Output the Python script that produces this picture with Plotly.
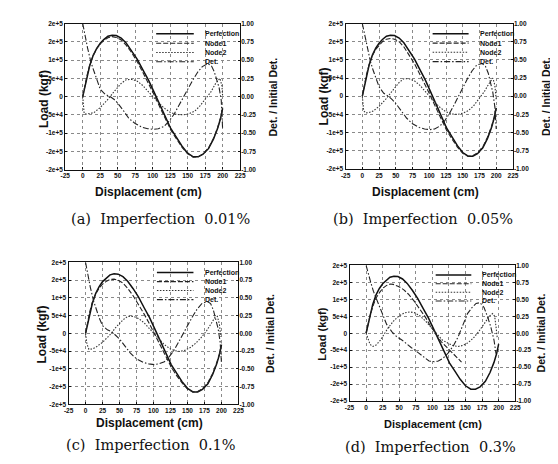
import plotly.graph_objects as go

# ---------------- data ----------------
PERF_X = [0, 3, 6, 10, 15, 20, 25, 30, 36, 42, 48, 55, 62, 70, 78, 86, 94, 102, 110, 118, 126, 134, 142, 150, 158, 165, 172, 180, 187, 193, 197, 200]
PERF_Y = [0, 28, 55, 85, 113, 132, 146, 156, 165, 168, 167, 160, 147, 126, 102, 73, 45, 12, -22, -55, -88, -112, -136, -155, -165, -165, -158, -142, -116, -86, -60, -32]

N1_X = PERF_X
N1_A_Y = [0, 30, 57, 86, 113, 131, 144, 153, 161, 164, 162, 155, 141, 120, 95, 66, 37, 5, -28, -60, -92, -116, -139, -157, -166, -165, -157, -140, -114, -84, -58, -30]
N1_B_Y = [0, 31, 58, 86, 112, 129, 141, 150, 157, 159, 157, 150, 136, 114, 89, 60, 31, 0, -32, -63, -94, -118, -140, -157, -165, -164, -156, -139, -113, -83, -57, -29]
N1_C_Y = [0, 33, 60, 88, 112, 128, 139, 146, 152, 153, 150, 142, 127, 106, 82, 55, 27, -3, -34, -65, -95, -119, -140, -157, -165, -164, -156, -139, -113, -83, -57, -29]
N1_D_X = [0, 3, 6, 10, 15, 21, 26, 31, 36, 41, 49, 57, 64, 72, 80, 89, 97, 105, 113, 122, 130, 138, 144]
N1_D_Y = [0, 27, 52, 78, 104, 122, 134, 141, 145, 144, 138, 128, 115, 96, 74, 49, 22, -2, -24, -42, -57, -73, -85]

N2_A_X = [0, 2, 5, 10, 16, 25, 35, 45, 55, 62, 70, 78, 86, 94, 100, 108, 116, 125, 134, 144, 152, 160, 167, 175, 183, 190, 196, 199, 200]
N2_A_Y = [0, -46, -48, -47, -44, -30, -10, 14, 36, 46, 47, 42, 30, 13, 0, -16, -31, -43, -49, -50, -47, -40, -27, -8, 12, 36, 50, 30, 0]
N2_B_X = [0, 2, 5, 10, 16, 25, 35, 45, 55, 62, 70, 78, 86, 94, 100, 108, 116, 125, 134, 142, 150, 158, 166, 174, 182, 189, 195, 198, 200]
N2_B_Y = [0, -40, -46, -45, -41, -28, -8, 16, 38, 48, 48, 42, 30, 13, 0, -16, -31, -43, -49, -50, -47, -40, -27, -9, 12, 34, 50, 30, -10]
N2_C_X = [0, 2, 5, 10, 16, 25, 35, 45, 55, 62, 70, 78, 86, 94, 100, 108, 116, 125, 132, 138, 146, 154, 162, 170, 178, 185, 190, 194, 197, 199]
N2_C_Y = [0, -30, -45, -44, -38, -25, -6, 18, 38, 48, 48, 42, 30, 13, 0, -17, -32, -44, -49, -51, -48, -40, -28, -12, 7, 28, 44, 48, 25, -10]
N2_D_X = [0, 3, 6, 10, 15, 21, 26, 33, 41, 49, 58, 66, 74, 82, 90, 99, 107, 115, 124, 132, 139, 146, 154, 162, 170, 178, 186, 191, 194, 196, 198]
N2_D_Y = [0, -20, -33, -39, -35, -22, -5, 15, 35, 50, 60, 63, 60, 50, 35, 15, -4, -20, -30, -37, -39, -36, -28, -14, 5, 28, 50, 58, 50, 20, -15]

DET_X = [0, 3, 7, 12, 16, 20, 25, 32, 39, 45, 50, 58, 66, 75, 85, 93, 101, 108, 116, 123, 130, 137, 143, 150, 157, 164, 171, 179, 184, 188, 192, 195, 198, 200]
DET_A_Y = [1.0, 0.85, 0.66, 0.46, 0.34, 0.22, 0.10, 0.03, 0.0, -0.04, -0.09, -0.19, -0.30, -0.37, -0.42, -0.44, -0.45, -0.44, -0.41, -0.34, -0.25, -0.13, -0.02, 0.10, 0.22, 0.33, 0.41, 0.45, 0.42, 0.34, 0.23, 0.12, -0.05, -0.45]
DET_B_Y = [1.0, 0.86, 0.68, 0.48, 0.36, 0.25, 0.13, 0.04, 0.0, -0.05, -0.10, -0.20, -0.30, -0.38, -0.43, -0.45, -0.46, -0.45, -0.41, -0.34, -0.24, -0.12, -0.01, 0.12, 0.24, 0.35, 0.43, 0.45, 0.41, 0.32, 0.18, 0.05, -0.15, -0.45]
DET_C_Y = [1.0, 0.84, 0.65, 0.45, 0.33, 0.22, 0.11, 0.05, 0.02, -0.03, -0.08, -0.18, -0.28, -0.36, -0.41, -0.43, -0.44, -0.43, -0.40, -0.33, -0.24, -0.12, -0.01, 0.11, 0.23, 0.34, 0.42, 0.45, 0.42, 0.33, 0.20, 0.07, -0.12, -0.42]
DET_D_X = [0, 3, 7, 11, 15, 21, 25, 31, 39, 46, 54, 60, 68, 79, 88, 95, 103, 109, 116, 124, 132, 139, 146, 153, 160, 166, 172, 178, 183, 188, 193, 196]
DET_D_Y = [1.0, 0.88, 0.75, 0.62, 0.52, 0.38, 0.27, 0.13, 0.02, -0.05, -0.10, -0.15, -0.21, -0.29, -0.36, -0.41, -0.42, -0.41, -0.37, -0.29, -0.18, -0.05, 0.12, 0.29, 0.38, 0.44, 0.45, 0.38, 0.25, 0.10, -0.10, -0.30]

X_TICKS = [-25, 0, 25, 50, 75, 100, 125, 150, 175, 200, 225]
LOAD_TICKS = [-200000, -150000, -100000, -50000, 0, 50000, 100000, 150000, 200000]
LOAD_LABELS = ["-2e+5", "-2e+5", "-1e+5", "-5e+4", "0", "5e+4", "1e+5", "2e+5", "2e+5"]
DET_TICKS = [-1.0, -0.75, -0.5, -0.25, 0.0, 0.25, 0.5, 0.75, 1.0]
DET_LABELS = ["-1.00", "-0.75", "-0.50", "-0.25", "0.00", "0.25", "0.50", "0.75", "1.00"]
SERIES = ["Perfection", "Node1", "Node2", "Det."]
CAPTIONS = ["(a)  Imperfection  0.01%", "(b)  Imperfection  0.05%",
            "(c)  Imperfection  0.1%", "(d)  Imperfection  0.3%"]

PANEL_DATA = [
    (N1_X, N1_A_Y, N2_A_X, N2_A_Y, DET_X, DET_A_Y),
    (N1_X, N1_B_Y, N2_B_X, N2_B_Y, DET_X, DET_B_Y),
    (N1_X, N1_C_Y, N2_C_X, N2_C_Y, DET_X, DET_C_Y),
    (N1_D_X, N1_D_Y, N2_D_X, N2_D_Y, DET_D_X, DET_D_Y),
]

# ---------------- layout geometry (pixels, top-based) ----------------
W, H = 558, 464
PANELS_PX = [(53.3, 231.7, 11.7, 160.0), (339.3, 510.0, 11.7, 159.3),
             (56.7, 230.0, 254.3, 398.3), (343.3, 512.3, 257.3, 395.0)]
LOAD_TITLE_PX = [(31, 88), (317, 86), (30, 327), (315, 327)]
DET_TITLE_PX = [(265, 86), (543, 86), (262, 326), (539, 326)]
DISP_TITLE_PX = [(138, 183), (421, 183), (139, 417), (428, 418)]
CAPTION_PX = [(150, 210), (418, 210), (141, 440), (426, 442)]
TITLE_SIZE = [12, 12, 12, 11]

STYLES = {
    "Perfection": dict(color="#111", width=1.5, dash="solid"),
    "Node1": dict(color="#222", width=1.1, dash="5px,2px"),
    "Node2": dict(color="#333", width=1.1, dash="1.5px,1.5px"),
    "Det.": dict(color="#222", width=1.1, dash="6px,2px,1.5px,2px"),
}

fig = go.Figure()
FONT = "Liberation Sans"
tickfont = dict(family=FONT, size=6.5, color="#111", weight="bold")
annotations = []
shapes = []

def px2paper(px, py):
    return px / W, 1 - py / H

for i in range(4):
    xn = i + 1
    yl = 2 * i + 1
    yr = 2 * i + 2
    xref = "x" if xn == 1 else f"x{xn}"
    ylref = "y" if yl == 1 else f"y{yl}"
    yrref = f"y{yr}"
    n1x, n1y, n2x, n2y, dx, dy = PANEL_DATA[i]

    fig.add_trace(go.Scatter(x=PERF_X, y=[v * 1000 for v in PERF_Y], mode="lines",
                             line=STYLES["Perfection"], xaxis=xref, yaxis=ylref, name="Perfection"))
    fig.add_trace(go.Scatter(x=n1x, y=[v * 1000 for v in n1y], mode="lines",
                             line=STYLES["Node1"], xaxis=xref, yaxis=ylref, name="Node1"))
    fig.add_trace(go.Scatter(x=n2x, y=[v * 1000 for v in n2y], mode="lines",
                             line=STYLES["Node2"], xaxis=xref, yaxis=ylref, name="Node2"))
    fig.add_trace(go.Scatter(x=dx, y=dy, mode="lines",
                             line=STYLES["Det."], xaxis=xref, yaxis=yrref, name="Det."))

    x0, x1, y0, y1 = PANELS_PX[i]
    dom_x = [x0 / W, x1 / W]
    dom_y = [1 - y1 / H, 1 - y0 / H]
    xkey = "xaxis" if xn == 1 else f"xaxis{xn}"
    ylkey = "yaxis" if yl == 1 else f"yaxis{yl}"
    yrkey = f"yaxis{yr}"
    fig.layout[xkey] = dict(domain=dom_x, anchor=ylref, range=[-25, 225], tickvals=X_TICKS,
                            ticktext=[str(v) for v in X_TICKS], tickfont=tickfont,
                            showgrid=True, gridcolor="#8a8a8a", griddash="dot", gridwidth=1,
                            showline=True, mirror=True, linecolor="#111", linewidth=1.2,
                            ticks="inside", ticklen=2, tickcolor="#111", zeroline=False)
    fig.layout[ylkey] = dict(domain=dom_y, anchor=xref, range=[-200000, 200000], tickvals=LOAD_TICKS,
                             ticktext=LOAD_LABELS, tickfont=tickfont,
                             showgrid=True, gridcolor="#8a8a8a", griddash="dot", gridwidth=1,
                             showline=True, mirror=True, linecolor="#111", linewidth=1.2,
                             ticks="inside", ticklen=2, tickcolor="#111", zeroline=False)
    fig.layout[yrkey] = dict(overlaying=ylref, anchor=xref, side="right", range=[-1, 1],
                             tickvals=DET_TICKS, ticktext=DET_LABELS, tickfont=tickfont,
                             showgrid=False, showline=False, ticks="inside", ticklen=2,
                             tickcolor="#111", zeroline=False)

    # titles
    fs = TITLE_SIZE[i]
    tfont = dict(family=FONT, size=fs, color="#111", weight="bold")
    px_, py_ = LOAD_TITLE_PX[i]
    ax, ay = px2paper(px_, py_)
    annotations.append(dict(text="Load (kgf)", x=ax, y=ay, xref="paper", yref="paper", showarrow=False,
                            textangle=-90, font=tfont, xanchor="center", yanchor="middle"))
    px_, py_ = DET_TITLE_PX[i]
    ax, ay = px2paper(px_, py_)
    annotations.append(dict(text="Det. / Initial Det.", x=ax, y=ay, xref="paper", yref="paper",
                            showarrow=False, textangle=-90,
                            font=dict(family=FONT, size=10.5, color="#111", weight="bold"),
                            xanchor="center", yanchor="middle"))
    px_, py_ = DISP_TITLE_PX[i]
    ax, ay = px2paper(px_, py_)
    annotations.append(dict(text="Displacement (cm)", x=ax, y=ay, xref="paper", yref="paper",
                            showarrow=False, font=tfont, xanchor="center", yanchor="middle"))
    px_, py_ = CAPTION_PX[i]
    ax, ay = px2paper(px_, py_)
    annotations.append(dict(text=CAPTIONS[i], x=ax, y=ay, xref="paper", yref="paper", showarrow=False,
                            font=dict(family="DejaVu Serif", size=14.5, color="#111"),
                            xanchor="center", yanchor="middle"))

    # legend (drawn inside the plot, top-right)
    w = x1 - x0
    h = y1 - y0
    rows = [0.07, 0.135, 0.198, 0.262]
    for name, fr in zip(SERIES, rows):
        st = STYLES[name]
        lx0, ly = px2paper(x0 + 0.52 * w, y0 + fr * h)
        lx1, _ = px2paper(x0 + 0.735 * w, y0 + fr * h)
        shapes.append(dict(type="line", xref="paper", yref="paper", x0=lx0, x1=lx1, y0=ly, y1=ly,
                           line=dict(color=st["color"], width=st["width"], dash=st["dash"])))
        tx, _ = px2paper(x0 + 0.79 * w, y0 + fr * h)
        annotations.append(dict(text=name, x=tx, y=ly, xref="paper", yref="paper", showarrow=False,
                                xanchor="left", yanchor="middle",
                                font=dict(family=FONT, size=7, color="#111", weight="bold")))

fig.update_layout(width=W, height=H, margin=dict(l=0, r=0, t=0, b=0),
                  paper_bgcolor="white", plot_bgcolor="white", showlegend=False,
                  annotations=annotations, shapes=shapes)
fig.write_html("out.html")
